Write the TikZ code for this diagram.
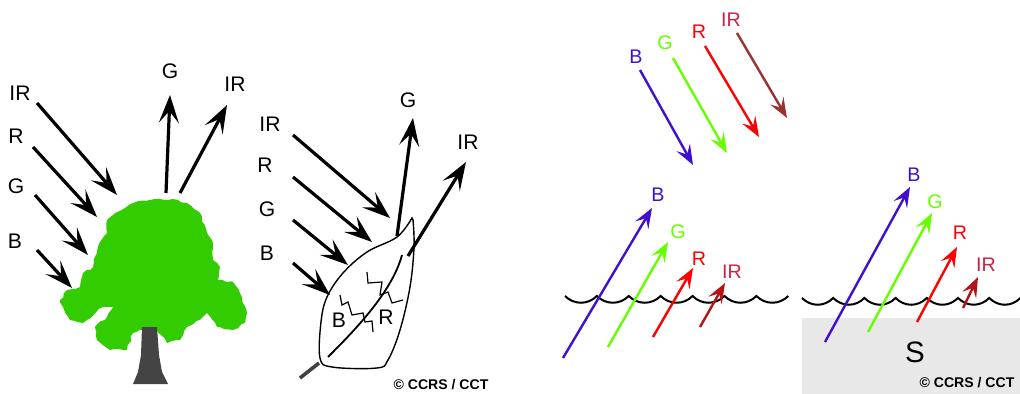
\documentclass[tikz,border=0pt]{standalone}
\usepackage{fontspec}
\setmainfont{Liberation Sans}
\usetikzlibrary{arrows.meta,decorations.pathmorphing}

\definecolor{leafgreen}{RGB}{51,204,0}
\definecolor{bark}{RGB}{68,68,68}
\definecolor{bandB}{RGB}{64,16,208}
\definecolor{bandG}{RGB}{102,255,0}
\definecolor{bandR}{RGB}{255,0,0}
\definecolor{bandIR}{RGB}{153,51,51}
\definecolor{deepIR}{RGB}{180,20,20}
\definecolor{labIR}{RGB}{204,34,68}
\definecolor{soil}{RGB}{232,232,232}

\begin{document}
\begin{tikzpicture}[
  x=0.025cm, y=-0.025cm,
  ray/.style={line width=0.8mm, -{Stealth[length=7mm,width=5mm,inset=3mm]}},
  band/.style={line width=0.6mm, -{Stealth[length=5mm,width=3.8mm,inset=2mm]}},
  lbl/.style={inner sep=0pt, font=\fontsize{15}{15}\selectfont},
  blbl/.style={inner sep=0pt, font=\fontsize{14}{14}\selectfont},
  credit/.style={inner sep=0pt, font=\bfseries\fontsize{10}{10}\selectfont},
  wave/.style={line width=0.5mm},
  vein/.style={line width=0.3mm}
]
\useasboundingbox (0,0) rectangle (1020,394);
\pgfmathsetseed{11}

% --- tree ---
\fill[leafgreen, decorate, decoration={random steps, segment length=3pt, amplitude=0.8pt}]
  (107,220) -- (115,213) -- (133,203) -- (150,200) -- (173,199) -- (187,203)
  -- (200,213) -- (207,233) -- (213,243) -- (213,260) -- (220,267) -- (218,280)
  -- (233,282) -- (240,293) -- (247,313) -- (245,323) -- (233,330) -- (217,327)
  -- (207,313) -- (200,320) -- (187,327) -- (180,340) -- (167,343) -- (157,330)
  -- (147,327) -- (133,333) -- (127,350) -- (110,350) -- (97,340) -- (95,327)
  -- (107,317) -- (113,307) -- (103,307) -- (83,323) -- (70,320) -- (63,307)
  -- (60,300) -- (67,290) -- (80,287) -- (83,273) -- (93,267) -- (98,247)
  -- (107,233) -- cycle;
\fill[bark] (142,327) -- (157,327) -- (159,355) -- (162,372) -- (168,384)
  -- (133,384) -- (138,372) -- (141,355) -- cycle;

\node[lbl] (t-IR) at (20,93) {IR};
\node[lbl] (t-R) at (16,136) {R};
\node[lbl] (t-G) at (16,186) {G};
\node[lbl] (t-B) at (15,241) {B};
\node[lbl] (t-Gup) at (170,71) {G};
\node[lbl] (t-IRup) at (235,84) {IR};

\coordinate (t-IR-s) at (37,103);  \coordinate (t-IR-e) at (117,195);
\coordinate (t-R-s) at (33,147);   \coordinate (t-R-e) at (97,217);
\coordinate (t-G-s) at (35,195);   \coordinate (t-G-e) at (88,255);
\coordinate (t-B-s) at (37,250);   \coordinate (t-B-e) at (72,288);
\coordinate (t-Gup-s) at (166,193);  \coordinate (t-Gup-e) at (170,95);
\coordinate (t-IRup-s) at (180,193); \coordinate (t-IRup-e) at (227,105);

\foreach \b in {IR,R,G,B,Gup,IRup}
  \draw[ray] (t-\b-s) -- (t-\b-e);

% --- leaf ---
\draw[line width=0.35mm] plot[smooth, tension=0.6] coordinates {(412,218) (397,237)
  (367,252) (343,273) (327,297) (321,322) (320,358) (332,367) (377,368) (388,360)
  (400,330) (410,287) (414,247) (413,220)} -- cycle;
\draw[line width=0.9mm, black!75] (319,363) -- (300,378);
\draw[line width=0.45mm] (328,357) .. controls (355,330) and (392,292) .. (402,255);
\draw[vein] (367,272) -- (368,283) -- (382,282) -- (380,295) -- (388,292)
  -- (392,303) -- (403,300);
\draw[vein] (340,295) -- (342,305) -- (348,302) -- (352,315) -- (363,313)
  -- (365,322) -- (372,321) -- (373,332);

\node[lbl] (l-B) at (339,320) {B};
\node[lbl] (l-R) at (386,317) {R};

\node[lbl] (l-IR) at (270,124) {IR};
\node[lbl] (l-R0) at (265,165) {R};
\node[lbl] (l-G) at (267,209) {G};
\node[lbl] (l-B0) at (267,253) {B};
\node[lbl] (l-Gup) at (408,100) {G};
\node[lbl] (l-IRup) at (468,142) {IR};

\coordinate (l-IR-s) at (293,135);  \coordinate (l-IR-e) at (390,218);
\coordinate (l-R-s) at (293,177);   \coordinate (l-R-e) at (372,242);
\coordinate (l-G-s) at (293,220);   \coordinate (l-G-e) at (348,265);
\coordinate (l-B-s) at (293,263);   \coordinate (l-B-e) at (330,295);
\coordinate (l-Gup-s) at (397,236);  \coordinate (l-Gup-e) at (413,118);
\coordinate (l-IRup-s) at (408,256); \coordinate (l-IRup-e) at (466,162);

\foreach \b in {IR,R,G,B,Gup,IRup}
  \draw[ray] (l-\b-s) -- (l-\b-e);

\node[credit] (l-credit) at (441,385) {© CCRS / CCT};

% --- sunlight onto the water ---
\node[blbl, text=bandB] (s-B) at (636,57) {B};
\node[blbl, text=bandG] (s-G) at (665,43) {G};
\node[blbl, text=bandR] (s-R) at (699,32) {R};
\node[blbl, text=labIR] (s-IR) at (731,20) {IR};

\coordinate (s-B-s) at (640,70);  \coordinate (s-B-e) at (693,165);
\coordinate (s-G-s) at (673,58);  \coordinate (s-G-e) at (727,153);
\coordinate (s-R-s) at (705,46);  \coordinate (s-R-e) at (759,137);
\coordinate (s-IR-s) at (737,33); \coordinate (s-IR-e) at (787,118);

\draw[band, bandB] (s-B-s) -- (s-B-e);
\draw[band, bandG] (s-G-s) -- (s-G-e);
\draw[band, bandR] (s-R-s) -- (s-R-e);
\draw[band, bandIR] (s-IR-s) -- (s-IR-e);

% --- deep water ---
\draw[wave] (565,296) \foreach \k in {1,...,7} { .. controls +(9,9) and +(-9,9) .. (565+31.9*\k,296) };

\node[blbl, text=bandB] (w-B) at (658,195) {B};
\node[blbl, text=bandG] (w-G) at (678,232) {G};
\node[blbl, text=bandR] (w-R) at (699,259) {R};
\node[blbl, text=labIR] (w-IR) at (732,272) {IR};

\coordinate (w-B-s) at (563,358);  \coordinate (w-B-e) at (652,208);
\coordinate (w-G-s) at (608,347);  \coordinate (w-G-e) at (668,242);
\coordinate (w-R-s) at (653,337);  \coordinate (w-R-e) at (693,268);
\coordinate (w-IR-s) at (700,327); \coordinate (w-IR-e) at (725,283);

\draw[band, bandB] (w-B-s) -- (w-B-e);
\draw[band, bandG] (w-G-s) -- (w-G-e);
\draw[band, bandR] (w-R-s) -- (w-R-e);
\draw[band, deepIR] (w-IR-s) -- (w-IR-e);

% --- shallow water over sediment ---
\fill[soil] (802,318) rectangle (1020,394);
\draw[wave] (802,298) \foreach \k in {1,...,7} { .. controls +(9,9) and +(-9,9) .. (802+31.2*\k,298) };

\node[font=\fontsize{21}{21}\selectfont, inner sep=0pt] (S) at (915,352) {S};

\node[blbl, text=bandB] (h-B) at (914,175) {B};
\node[blbl, text=bandG] (h-G) at (935,202) {G};
\node[blbl, text=bandR] (h-R) at (960,233) {R};
\node[blbl, text=labIR] (h-IR) at (986,265) {IR};

\coordinate (h-B-s) at (825,342);  \coordinate (h-B-e) at (910,187);
\coordinate (h-G-s) at (868,332);  \coordinate (h-G-e) at (932,213);
\coordinate (h-R-s) at (917,322);  \coordinate (h-R-e) at (957,247);
\coordinate (h-IR-s) at (963,308); \coordinate (h-IR-e) at (978,277);

\draw[band, bandB] (h-B-s) -- (h-B-e);
\draw[band, bandG] (h-G-s) -- (h-G-e);
\draw[band, bandR] (h-R-s) -- (h-R-e);
\draw[band, deepIR] (h-IR-s) -- (h-IR-e);

\node[credit] (h-credit) at (967,383) {© CCRS / CCT};
\end{tikzpicture}
\end{document}
